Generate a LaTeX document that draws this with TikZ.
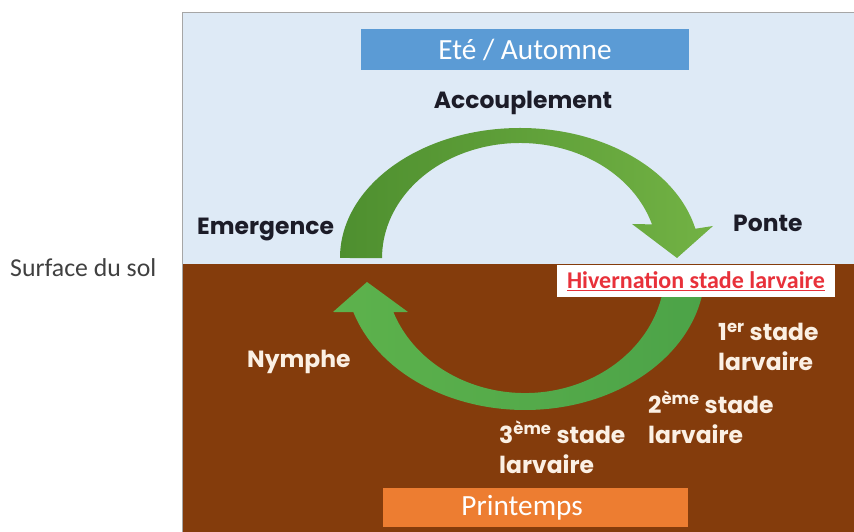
\documentclass[tikz,border=0pt]{standalone}
\usepackage{fontspec}
\setmainfont{Carlito}
\newfontfamily\pop{Poppins}
\definecolor{skyc}{HTML}{DEEAF6}
\definecolor{soilc}{HTML}{843C0C}
\definecolor{bluebox}{HTML}{5B9BD5}
\definecolor{orangebox}{HTML}{ED7D31}
\definecolor{gdark}{HTML}{4E8F2F}
\definecolor{glight}{HTML}{72B244}
\definecolor{ldark}{HTML}{4CA348}
\definecolor{llight}{HTML}{5DB24C}
\definecolor{darktext}{HTML}{1C1C28}
\definecolor{graytext}{HTML}{404040}
\definecolor{redtext}{HTML}{E8313A}
\definecolor{creamtext}{HTML}{FBF0E4}
\tikzset{
  season/.style={inner sep=0pt, text=white, font=\fontsize{25}{28}\selectfont},
  darklabel/.style={inner sep=0pt, text=darktext, font=\pop\bfseries\fontsize{20}{24}\selectfont},
  whitelabel/.style={inner sep=0pt, text=creamtext, align=left, font=\pop\bfseries\fontsize{20}{25.6}\selectfont},
}
\begin{document}
\begin{tikzpicture}[x=0.03cm,y=0.03cm]
\useasboundingbox (0,0) rectangle (854,532);
\fill[white] (0,0) rectangle (854,532);
% sky and soil
\fill[skyc] (182,268) rectangle (854,520);
\fill[soilc] (182,0) rectangle (854,268);
\draw[gray!70, line width=0.6pt] (182,0) -- (182,520) -- (854,520);
% upper curved arrow
\shade[left color=gdark, right color=glight]
  (340,274) arc[start angle=180, end angle=13, x radius=180, y radius=130]
  -- (713,306) -- (677,274) -- (632,308) -- (652,307.6)
  arc[start angle=17, end angle=180, x radius=138, y radius=115] -- cycle;
% lower curved arrow
\shade[left color=llight, right color=ldark]
  (705,262) arc[start angle=0, end angle=-162.5, x radius=180, y radius=140]
  -- (333,220) -- (367,250) -- (408,220) -- (393.4,219.9)
  arc[start angle=-160, end angle=0, x radius=140, y radius=123] -- cycle;
% boxes
\node[season, fill=bluebox, minimum width=9.84cm, minimum height=1.23cm] (ete) at (525,482) {Eté / Automne};
\node[season, fill=orangebox, minimum width=9.15cm, minimum height=1.17cm] (print) at (535.5,24.5) {Printemps\kern0.8cm};
\node[fill=white, inner sep=0pt, minimum width=8.34cm, minimum height=0.96cm, text=redtext,
      font=\bfseries\fontsize{20.5}{24}\selectfont] (hiv) at (696,251) {\underline{Hivernation stade larvaire}};
% labels
\node[darklabel] (acc) at (523,429) {Accouplement};
\node[darklabel, anchor=west] (emer) at (197,302) {Emergence};
\node[darklabel, anchor=west] (ponte) at (733,309) {Ponte};
\node[inner sep=0pt, anchor=west, text=graytext, font=\fontsize{22}{26}\selectfont] (sol) at (10,264) {Surface du sol};
\node[whitelabel, anchor=west] (nym) at (247,170) {Nymphe};
\node[whitelabel, anchor=west] (l1) at (718,185) {1\textsuperscript{er} stade\\larvaire};
\node[whitelabel, anchor=west] (l2) at (648,115) {2\textsuperscript{ème} stade\\larvaire};
\node[whitelabel, anchor=west] (l3) at (499,85) {3\textsuperscript{ème} stade\\larvaire};
\end{tikzpicture}
\end{document}
